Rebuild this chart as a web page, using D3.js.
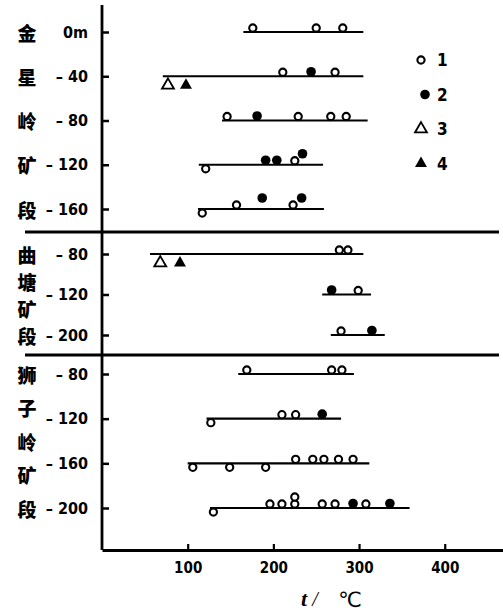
<!DOCTYPE html>
<html>
<head>
<meta charset="utf-8">
<script src="https://cdn.jsdelivr.net/npm/d3@7"></script>
<style>
  body { margin: 0; background: #fff; }
  svg { display: block; }
</style>
</head>
<body>
<svg id="chart" width="503" height="614"></svg>
<script>
// Ore sections, listed top to bottom
const sections = ["金星岭矿段", "曲塘矿段", "狮子岭矿段"];

// Sampling levels (depth, m) of each section
const sectionDepths = [
  ["0m", "-40", "-80", "-120", "-160"],
  ["-80", "-120", "-200"],
  ["-80", "-120", "-160", "-200"]
];

// Homogenization temperature span per level: [section, depth, t min, t max] (°C)
const spans = [
  [0, "0m", 165, 305],
  [0, "-40", 71, 305],
  [0, "-80", 140, 310],
  [0, "-120", 113, 258],
  [0, "-160", 112, 259],
  [1, "-80", 56, 305],
  [1, "-120", 257, 314],
  [1, "-200", 267, 330],
  [2, "-80", 159, 294],
  [2, "-120", 122, 279],
  [2, "-160", 100, 312],
  [2, "-200", 126, 359]
];

// Individual measurements: [section, depth, t (°C), inclusion type, placement]
const samples = [
  [0, "0m", 176, 1, "on"], [0, "0m", 250, 1, "on"], [0, "0m", 281, 1, "on"],
  [0, "-40", 77, 3, "below"], [0, "-40", 98, 4, "below"],
  [0, "-40", 211, 1, "on"], [0, "-40", 244, 2, "on"], [0, "-40", 272, 1, "on"],
  [0, "-80", 146, 1, "on"], [0, "-80", 181, 2, "on"], [0, "-80", 229, 1, "on"],
  [0, "-80", 267, 1, "on"], [0, "-80", 285, 1, "on"],
  [0, "-120", 121, 1, "below"], [0, "-120", 191, 2, "on"], [0, "-120", 204, 2, "on"],
  [0, "-120", 225, 1, "on"], [0, "-120", 234, 2, "up"],
  [0, "-160", 117, 1, "below"], [0, "-160", 157, 1, "on"], [0, "-160", 187, 2, "up"],
  [0, "-160", 223, 1, "on"], [0, "-160", 233, 2, "up"],
  [1, "-80", 68, 3, "below"], [1, "-80", 91, 4, "below"],
  [1, "-80", 277, 1, "on"], [1, "-80", 287, 1, "on"],
  [1, "-120", 268, 2, "on"], [1, "-120", 299, 1, "on"],
  [1, "-200", 279, 1, "on"], [1, "-200", 315, 2, "on"],
  [2, "-80", 169, 1, "on"], [2, "-80", 268, 1, "on"], [2, "-80", 280, 1, "on"],
  [2, "-120", 127, 1, "below"], [2, "-120", 210, 1, "on"], [2, "-120", 226, 1, "on"],
  [2, "-120", 257, 2, "on"],
  [2, "-160", 106, 1, "below"], [2, "-160", 149, 1, "below"], [2, "-160", 191, 1, "below"],
  [2, "-160", 226, 1, "on"], [2, "-160", 246, 1, "on"], [2, "-160", 259, 1, "on"],
  [2, "-160", 276, 1, "on"], [2, "-160", 293, 1, "on"],
  [2, "-200", 130, 1, "below"], [2, "-200", 196, 1, "on"], [2, "-200", 210, 1, "on"],
  [2, "-200", 225, 1, "on"], [2, "-200", 225, 1, "up"], [2, "-200", 257, 1, "on"],
  [2, "-200", 272, 1, "on"], [2, "-200", 293, 2, "on"], [2, "-200", 308, 1, "on"],
  [2, "-200", 336, 2, "on"]
];

const xTicks = [100, 200, 300, 400];
const legendTypes = [1, 2, 3, 4];
const legendLabels = ["1", "2", "3", "4"];

// ---------------------------------------------------------------
const svg = d3.select("#chart");
const W = 503, H = 614;
svg.append("rect").attr("width", W).attr("height", H).attr("fill", "#fff");

const numFont = "'Liberation Sans Narrow', 'DejaVu Sans Condensed', sans-serif";
const cjkFont = "'Noto Sans CJK SC', 'Noto Sans CJK TC', sans-serif";

const x = d3.scaleLinear().domain([0, 468]).range([102, 503]);
const axisY = 550;

// one point scale per section, stacked vertically
const bands = [[32, 209], [254, 335], [374, 508]];
const yScales = sectionDepths.map((d, i) => d3.scalePoint().domain(d).range(bands[i]));

const fmtDepth = d => d === "0m" ? "0m" : d.replace("-", "\u2013 ");

// section dividers (midway between neighbouring bands)
for (let i = 0; i < bands.length - 1; i++) {
  const yy = Math.round((bands[i][1] + bands[i + 1][0]) / 2);
  svg.append("line")
    .attr("x1", 25).attr("x2", 499).attr("y1", yy).attr("y2", yy)
    .attr("stroke", "#000").attr("stroke-width", 3.2);
}

// y axes: one per section, ticks point inward
yScales.forEach((ys, i) => {
  const g = svg.append("g")
    .attr("transform", `translate(${x(0)},0)`)
    .call(d3.axisLeft(ys).tickSizeInner(-7).tickSizeOuter(0).tickPadding(14).tickFormat(fmtDepth));
  g.select(".domain").remove();
  g.selectAll(".tick line").attr("stroke", "#000").attr("stroke-width", 2.5);
  g.selectAll(".tick text")
    .attr("fill", "#000")
    .style("font-family", numFont)
    .style("font-weight", "bold")
    .style("font-size", "16px");
});

// vertical axis line
svg.append("line")
  .attr("x1", x(0)).attr("x2", x(0)).attr("y1", 5).attr("y2", axisY)
  .attr("stroke", "#000").attr("stroke-width", 2.8);

// x axis
const gx = svg.append("g")
  .attr("transform", `translate(0,${axisY})`)
  .call(d3.axisBottom(x).tickValues(xTicks).tickSizeInner(-6).tickSizeOuter(0).tickPadding(12));
gx.select(".domain").attr("stroke", "#000").attr("stroke-width", 2.8);
gx.selectAll(".tick line").attr("stroke", "#000").attr("stroke-width", 2.2);
gx.selectAll(".tick text")
  .attr("fill", "#000")
  .style("font-family", numFont)
  .style("font-weight", "bold")
  .style("font-size", "15px");

// x axis title: t / ℃
const title = svg.append("g");
title.append("text").attr("x", 304).attr("y", 606).attr("text-anchor", "middle")
  .style("font-family", "'Liberation Serif', serif").style("font-style", "italic")
  .style("font-weight", "bold").style("font-size", "22px").text("t");
title.append("text").attr("x", 315).attr("y", 606).attr("text-anchor", "middle")
  .style("font-family", "'Liberation Serif', serif").style("font-style", "italic")
  .style("font-size", "20px").text("/");
title.append("text").attr("x", 350).attr("y", 607).attr("text-anchor", "middle")
  .style("font-family", "'DejaVu Sans', sans-serif").style("font-size", "21px").text("℃");

// section names written vertically beside the depth labels
sections.forEach((name, i) => {
  const chars = Array.from(name);
  const [y0, y1] = bands[i];
  const step = (y1 - y0) / (chars.length - 1);
  chars.forEach((c, k) => {
    svg.append("text")
      .attr("x", 27).attr("y", y0 + k * step)
      .attr("text-anchor", "middle").attr("dominant-baseline", "central")
      .style("font-family", cjkFont).style("font-weight", "900")
      .style("font-size", "19px")
      .text(c);
  });
});

// temperature span lines
svg.append("g").selectAll("line").data(spans).join("line")
  .attr("x1", d => x(d[2])).attr("x2", d => x(d[3]))
  .attr("y1", d => yScales[d[0]](d[1])).attr("y2", d => yScales[d[0]](d[1]))
  .attr("stroke", "#000").attr("stroke-width", 2.2);

// marker drawing for the four inclusion types
const triPath = d3.symbol(d3.symbolTriangle, 62)();
function drawMarker(sel, type) {
  if (type === 1) {
    sel.append("circle").attr("r", 3.6).attr("fill", "#fff")
      .attr("stroke", "#000").attr("stroke-width", 2.1);
  } else if (type === 2) {
    sel.append("circle").attr("r", 4.8).attr("fill", "#000");
  } else if (type === 3) {
    sel.append("path").attr("d", triPath).attr("fill", "#fff")
      .attr("stroke", "#000").attr("stroke-width", 1.8);
  } else {
    sel.append("path").attr("d", triPath).attr("fill", "#000");
  }
}

function offsetFor(type, place) {
  if (place === "below") return type >= 3 ? 9 : 4;
  if (place === "up") return -11;
  return type === 2 ? -4.5 : -4;
}

const gm = svg.append("g");
samples.forEach(d => {
  const [s, depth, t, type, place] = d;
  const cy = yScales[s](depth) + offsetFor(type, place);
  const g = gm.append("g").attr("transform", `translate(${x(t)},${cy})`);
  drawMarker(g, type);
});

// legend
const lg = svg.append("g");
legendTypes.forEach((type, i) => {
  const yy = 60 + i * 34.5;
  const g = lg.append("g").attr("transform", `translate(${type === 2 ? 425 : 421},${yy})`);
  drawMarker(g, type);
  lg.append("text").attr("x", 437).attr("y", yy).attr("dominant-baseline", "central")
    .style("font-family", numFont).style("font-weight", "bold").style("font-size", "17px")
    .text(legendLabels[i]);
});
</script>
</body>
</html>
